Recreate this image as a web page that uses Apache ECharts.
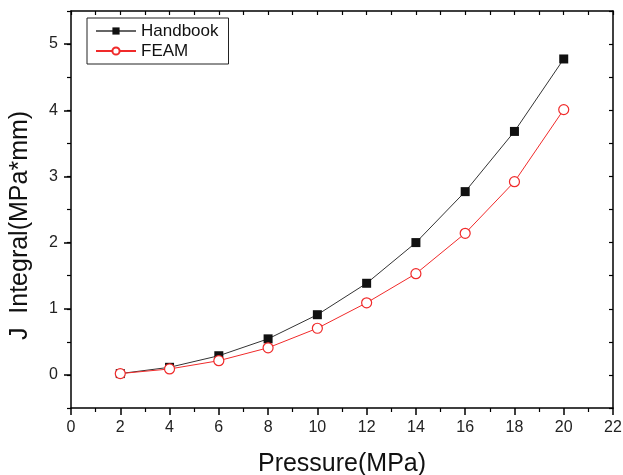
<!DOCTYPE html>
<html><head><meta charset="utf-8">
<script src="https://cdn.jsdelivr.net/npm/echarts@6/dist/echarts.min.js"></script>
<style>html,body{margin:0;padding:0;background:#fff}#c{width:623px;height:475px}</style>
</head><body><div id="c"></div>
<script>
const pressure = [2, 4, 6, 8, 10, 12, 14, 16, 18, 20];
const handbook = [0.02, 0.115, 0.29, 0.545, 0.91, 1.385, 2.0, 2.77, 3.68, 4.775];
const feam = [0.02, 0.09, 0.215, 0.41, 0.705, 1.09, 1.53, 2.14, 2.92, 4.01];
const yMajorTicks = [0, 1, 2, 3, 4, 5];

const font = 'Liberation Sans, Arial, sans-serif';
const chart = echarts.init(document.getElementById('c'));
const axisLine = {show: true, onZero: false, lineStyle: {color: '#000', width: 1.5}};
chart.setOption({
  animation: false,
  grid: {left: 71, right: 10, top: 11, bottom: 67, outerBoundsMode: 'none', containLabel: false},
  legend: {
    left: 87, top: 18, orient: 'vertical',
    borderColor: '#222', borderWidth: 1, padding: [3, 10, 3, 8],
    itemWidth: 40, itemHeight: 9, itemGap: 0,
    textStyle: {fontFamily: font, fontSize: 17, color: '#111', lineHeight: 20},
    data: [{name: 'Handbook', lineStyle: {color: '#666'}}, {name: 'FEAM'}]
  },
  xAxis: [
    {type: 'value', min: 0, max: 22, interval: 2, position: 'bottom',
     name: 'Pressure(MPa)', nameLocation: 'middle', nameGap: 44,
     nameTextStyle: {fontFamily: font, fontSize: 25, color: '#111'},
     axisLine: axisLine,
     axisTick: {show: true, length: 7, lineStyle: {color: '#000', width: 1.5}},
     minorTick: {show: true, splitNumber: 2, length: 4, lineStyle: {color: '#000', width: 1.2}},
     axisLabel: {fontFamily: font, fontSize: 16, color: '#222', margin: 12},
     splitLine: {show: false}},
    {type: 'value', min: 0, max: 22, interval: 2, position: 'top',
     axisLine: axisLine,
     axisTick: {show: true, inside: true, length: 4, lineStyle: {color: '#000', width: 1.2}},
     minorTick: {show: true, splitNumber: 2, length: 4, lineStyle: {color: '#000', width: 1.2}},
     axisLabel: {show: false}, splitLine: {show: false}}
  ],
  yAxis: [
    {type: 'value', min: -0.5, max: 5.5, interval: 0.5, position: 'left',
     name: 'J  Integral(MPa*mm)', nameLocation: 'middle', nameGap: 38,
     nameTextStyle: {fontFamily: font, fontSize: 25, color: '#111', padding: [0, 32, 0, 0]},
     axisLine: axisLine,
     axisTick: {show: true, length: 7, customValues: yMajorTicks, lineStyle: {color: '#000', width: 1.5}},
     axisLabel: {fontFamily: font, fontSize: 16, color: '#222', margin: 13, customValues: yMajorTicks},
     splitLine: {show: false}},
    {type: 'value', min: -0.5, max: 5.5, interval: 0.5, position: 'left',
     axisLine: {show: false, onZero: false},
     axisTick: {show: true, length: 4, lineStyle: {color: '#000', width: 1.2}},
     axisLabel: {show: false}, splitLine: {show: false}},
    {type: 'value', min: -0.5, max: 5.5, interval: 0.5, position: 'right',
     axisLine: axisLine,
     axisTick: {show: true, inside: true, length: 4, lineStyle: {color: '#000', width: 1.2}},
     axisLabel: {show: false}, splitLine: {show: false}}
  ],
  series: [
    {name: 'Handbook', type: 'line', xAxisIndex: 0, yAxisIndex: 0,
     data: pressure.map((p, i) => [p, handbook[i]]),
     symbol: 'rect', symbolSize: 9, showAllSymbol: true,
     lineStyle: {color: '#333', width: 1},
     itemStyle: {color: '#111', borderColor: '#111', borderWidth: 0}},
    {name: 'FEAM', type: 'line', xAxisIndex: 0, yAxisIndex: 0,
     data: pressure.map((p, i) => [p, feam[i]]),
     symbol: 'circle', symbolSize: 10, showAllSymbol: true,
     lineStyle: {color: '#f02a2a', width: 1},
     itemStyle: {color: '#fff', borderColor: '#f02a2a', borderWidth: 1.2}}
  ]
});
</script></body></html>
